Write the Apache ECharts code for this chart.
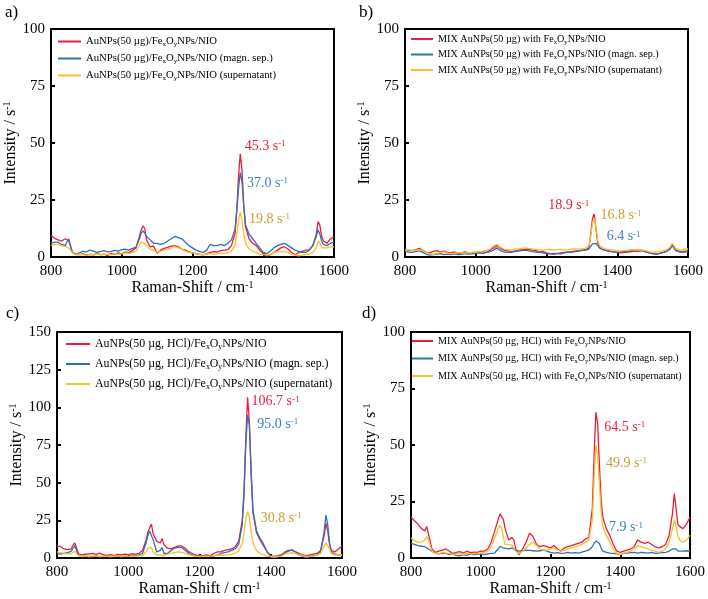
<!DOCTYPE html>
<html><head><meta charset="utf-8">
<script src="https://cdn.jsdelivr.net/npm/echarts@6/dist/echarts.min.js"></script>
<style>html,body{margin:0;padding:0;background:#fff}#c{width:708px;height:599px}</style>
</head><body><div id="c"></div>
<script>
// Raman shift positions (cm^-1)
const X = [800,810,820,830,840,845,850,860,870,880,
890,900,910,920,930,940,950,960,970,980,
990,1000,1010,1020,1030,1040,1050,1055,1060,1065,
1070,1080,1090,1095,1100,1110,1120,1130,1140,1150,
1160,1170,1180,1190,1200,1210,1220,1230,1240,1250,
1260,1270,1280,1290,1300,1310,1320,1325,1330,1335,
1340,1345,1350,1360,1370,1380,1390,1400,1410,1420,
1430,1440,1450,1460,1470,1480,1490,1500,1510,1520,
1530,1540,1550,1555,1560,1565,1570,1580,1590,1600];

// Panel a
const A_red = [9.6,8.2,7.5,7.0,8.0,8.6,7.2,2.3,1.2,1.0,
1.4,0.8,1.2,0.9,1.5,1.0,1.3,0.7,1.6,1.1,
1.8,1.4,2.2,1.9,2.8,4.0,9.0,12.0,13.6,12.5,
7.5,4.5,4.8,5.2,1.6,3.0,3.8,4.2,4.8,5.0,
4.4,3.5,3.0,2.2,1.8,1.5,1.2,0.9,1.4,2.0,
2.4,2.2,2.8,3.0,3.2,5.0,10.0,20.0,35.0,45.3,
38.0,22.0,13.0,8.0,6.0,5.0,3.0,1.5,0.5,1.0,
2.0,3.0,4.0,4.5,3.5,2.0,1.0,2.0,2.5,3.0,
3.0,5.0,10.0,15.5,14.0,9.0,7.0,6.0,8.0,9.0];
const A_blue = [6.0,6.5,6.5,5.5,5.0,6.5,8.0,2.0,1.0,1.8,
2.5,2.2,3.0,2.6,2.0,2.4,2.8,2.2,2.5,2.9,
2.6,3.2,3.5,3.0,3.8,4.2,8.0,10.5,11.5,10.5,
9.0,7.5,6.0,6.2,6.0,5.5,6.0,7.0,8.0,9.0,
8.5,8.0,6.5,5.0,4.0,3.0,2.5,2.0,3.0,5.5,
5.0,5.0,5.5,5.0,6.0,7.5,12.0,20.0,30.0,37.0,
33.0,22.0,14.0,10.0,8.0,6.0,4.0,2.0,1.5,2.5,
4.0,5.0,5.5,6.0,5.0,4.0,3.0,2.5,2.0,2.0,
3.0,5.0,9.0,12.0,10.0,7.0,5.5,5.0,6.0,6.5];
const A_yellow = [5.0,5.5,5.5,5.0,4.5,4.2,4.0,2.0,1.0,1.2,
1.0,0.8,1.2,1.0,1.4,0.9,1.1,1.3,1.0,1.4,
1.2,1.5,1.8,1.6,2.0,2.5,5.0,6.5,7.0,6.0,
5.0,3.5,3.0,3.2,2.0,2.5,3.0,3.5,4.0,4.5,
4.0,3.5,2.5,2.0,1.8,1.5,1.2,1.0,1.3,1.5,
1.2,1.4,1.6,1.5,1.8,2.5,5.0,10.0,16.0,19.8,
16.0,10.0,6.0,3.5,2.5,2.0,1.2,1.0,0.8,1.0,
2.0,2.3,2.5,2.4,2.0,1.2,0.8,0.5,0.8,1.0,
1.2,2.0,4.0,7.0,6.0,4.0,3.5,4.0,4.5,4.5];

// Panel b
const B_red = [3.5,3.0,2.8,3.2,3.8,4.2,3.0,2.0,1.8,2.5,
2.8,2.2,2.6,2.0,1.8,2.2,1.5,1.9,2.3,1.7,
2.0,1.8,2.2,2.4,2.0,3.0,4.0,4.8,5.0,4.5,
3.8,3.0,2.8,2.5,2.2,2.6,3.0,3.2,3.5,3.4,
3.0,2.8,2.2,2.5,1.8,1.5,1.2,1.6,1.4,1.8,
2.0,2.4,2.6,2.8,3.0,3.2,4.0,10.0,17.0,18.9,
12.0,6.0,4.0,3.2,2.8,2.5,2.2,2.0,1.8,2.0,
2.2,2.4,2.6,2.5,2.8,2.4,2.0,1.5,1.2,1.6,
2.0,2.5,3.5,5.5,4.5,3.0,2.4,2.2,2.6,2.5];
const B_blue = [2.5,2.2,2.0,2.4,2.8,2.5,2.0,1.2,0.8,1.0,
1.2,1.5,1.0,1.3,1.1,1.4,1.0,1.2,1.5,1.3,
1.4,1.6,1.8,1.5,2.0,2.4,3.0,3.8,4.0,3.5,
2.8,2.2,2.0,2.2,2.0,2.4,2.6,2.8,3.0,2.7,
2.4,2.2,2.0,1.8,1.5,1.4,1.6,1.5,1.8,2.0,
2.2,2.0,2.4,2.6,2.8,3.0,3.5,4.8,5.8,6.4,
6.0,5.0,4.0,3.2,2.8,2.5,2.2,2.0,2.4,2.6,
2.5,2.8,3.0,3.2,2.8,2.2,1.8,1.5,1.4,1.6,
2.0,2.6,3.8,5.0,4.0,2.8,2.2,2.0,2.2,2.4];
const B_yellow = [3.0,3.2,2.8,3.0,3.2,3.5,3.0,2.2,1.5,1.2,
1.5,2.0,2.2,1.8,1.5,1.6,1.8,2.0,1.7,1.9,
2.0,2.2,2.4,2.6,3.0,3.5,4.8,5.5,5.5,5.0,
4.2,3.5,3.2,3.0,3.0,3.4,3.6,3.8,4.0,3.8,
3.5,3.3,3.2,3.0,3.2,3.4,3.0,3.2,3.3,3.0,
3.2,3.4,3.5,3.6,3.6,3.8,5.0,9.0,15.0,16.8,
13.0,7.0,5.0,4.0,3.5,3.2,3.0,2.8,2.6,2.8,
3.0,3.2,3.0,3.2,3.0,2.8,2.4,2.0,2.2,2.5,
2.8,3.2,4.5,6.0,5.0,3.8,3.2,3.0,3.4,3.5];

// Panel c
const C_red = [8.0,7.5,6.0,5.5,6.0,8.5,10.0,3.0,2.0,2.5,
2.8,3.0,2.4,3.2,2.0,1.8,2.2,1.6,2.4,2.0,
2.5,2.2,2.8,2.6,3.0,5.0,12.0,17.0,20.0,22.5,
16.0,11.0,10.0,13.0,9.0,6.5,6.0,7.0,8.0,8.0,
6.5,4.0,3.0,2.0,1.8,1.5,2.0,1.6,3.0,4.0,
4.0,5.0,5.5,6.0,7.5,11.0,25.0,45.0,80.0,106.7,
90.0,55.0,30.0,17.0,12.0,8.0,4.0,1.5,1.0,1.5,
2.0,4.0,5.0,5.0,4.0,3.0,2.0,1.5,2.0,2.5,
3.0,5.0,15.0,23.0,18.0,9.0,5.0,4.0,6.0,8.0];
const C_blue = [3.0,2.5,3.0,3.5,4.5,6.5,8.0,2.0,1.0,1.2,
1.0,0.8,1.2,1.0,0.9,1.1,1.0,0.8,1.2,1.0,
1.1,1.0,1.4,1.6,2.0,3.0,10.0,15.0,18.0,19.0,
12.0,4.0,5.0,7.0,3.0,3.0,5.0,6.5,7.0,7.0,
5.0,3.0,2.0,1.5,1.2,1.0,1.2,1.0,1.4,2.0,
3.0,3.5,4.0,5.0,6.0,9.0,22.0,42.0,75.0,95.0,
88.0,58.0,32.0,18.0,13.0,9.0,4.0,1.0,0.5,1.0,
2.0,3.5,4.5,5.5,4.0,2.0,1.0,0.5,1.0,1.5,
2.0,4.0,18.0,28.5,22.0,10.0,4.0,2.5,2.0,2.0];
const C_yellow = [4.0,3.5,3.0,2.8,3.0,4.0,4.5,1.5,1.0,1.2,
1.0,1.4,1.2,1.0,1.3,1.1,1.0,1.2,1.4,1.0,
1.2,1.3,1.0,1.2,1.4,1.5,4.0,6.5,7.5,7.0,
4.0,2.0,2.0,2.5,1.5,2.5,3.0,3.5,4.0,3.8,
3.0,2.0,1.5,1.2,1.0,1.2,1.0,1.4,1.5,1.8,
2.0,1.8,2.2,2.5,3.0,5.0,10.0,17.0,26.0,30.8,
27.0,17.0,10.0,5.0,3.0,2.0,1.2,1.0,0.8,1.0,
1.2,2.5,3.0,3.5,3.0,2.0,1.5,1.0,1.2,1.5,
2.0,3.0,8.0,10.0,9.0,6.0,3.0,2.0,2.0,2.0];

// Panel d
const D_red = [18.0,16.5,15.0,13.0,12.0,14.0,14.0,4.0,2.5,3.0,
3.5,4.0,3.0,2.0,2.5,2.8,2.2,3.0,2.4,2.6,
2.5,3.0,3.0,4.0,7.0,12.0,17.0,19.5,20.0,17.0,
13.0,8.0,9.0,8.0,4.0,1.5,4.0,7.0,11.0,9.5,
6.0,5.0,5.5,5.0,4.5,5.5,4.0,3.0,4.5,5.0,
5.5,6.0,6.5,7.0,8.5,9.0,22.0,45.0,64.5,60.0,
42.0,26.0,18.0,13.0,10.0,6.0,3.0,2.5,3.0,3.5,
4.0,5.0,8.0,7.0,6.5,7.0,6.0,5.0,4.5,5.0,
6.0,10.0,20.0,28.5,22.0,15.0,14.0,13.0,15.0,18.0];
const D_blue = [6.5,6.0,5.5,5.2,5.0,4.5,4.0,3.0,2.0,1.8,
2.2,2.0,1.5,1.8,1.2,1.0,1.5,1.2,1.8,1.5,
1.6,1.8,1.5,1.8,2.0,2.2,4.0,5.0,4.8,4.5,
4.5,4.0,4.5,4.0,3.5,3.0,3.2,3.5,3.4,3.2,
3.0,3.2,3.5,3.0,2.5,2.2,2.4,2.0,2.2,2.5,
2.2,2.4,2.2,2.6,3.0,3.5,5.0,6.5,7.5,7.9,
6.5,4.5,3.0,2.5,2.2,2.0,1.8,1.5,2.0,2.2,
2.4,2.5,2.2,2.5,2.4,2.2,2.5,2.0,2.2,2.4,
2.5,3.0,4.0,4.5,4.0,3.0,2.8,3.0,3.2,3.0];
const D_yellow = [9.0,7.5,7.0,7.0,8.0,9.5,8.0,3.0,2.0,1.8,
2.5,2.2,2.0,1.5,2.0,1.8,1.5,2.2,1.8,2.0,
2.0,2.2,2.5,3.0,5.0,9.0,13.0,14.5,13.0,9.0,
6.0,6.0,5.5,5.0,3.0,2.0,3.0,4.5,6.0,7.0,
5.5,4.0,3.5,3.5,4.0,4.5,3.5,3.0,3.5,4.0,
4.5,5.0,5.5,6.0,7.0,8.0,17.0,35.0,49.9,46.0,
33.0,21.0,14.0,10.0,7.0,4.0,2.0,1.5,2.0,2.5,
3.0,4.0,5.5,5.0,4.5,4.0,3.5,3.0,2.5,3.0,
4.0,7.0,13.0,17.0,14.0,10.0,8.0,7.0,8.0,10.0];

// Axis ticks
const X_TICKS = [800, 1000, 1200, 1400, 1600];
const Y_TICKS_100 = [0, 25, 50, 75, 100];
const Y_TICKS_150 = [0, 25, 50, 75, 100, 125, 150];

// Legend names
const NAMES_A = ['AuNPs(50 µg)/Fe{sub|x}O{sub|y}NPs/NIO', 'AuNPs(50 µg)/Fe{sub|x}O{sub|y}NPs/NIO (magn. sep.)', 'AuNPs(50 µg)/Fe{sub|x}O{sub|y}NPs/NIO (supernatant)'];
const NAMES_B = ['MIX AuNPs(50 µg) with Fe{sub|x}O{sub|y}NPs/NIO', 'MIX AuNPs(50 µg) with Fe{sub|x}O{sub|y}NPs/NIO (magn. sep.)', 'MIX AuNPs(50 µg) with Fe{sub|x}O{sub|y}NPs/NIO (supernatant)'];
const NAMES_C = ['AuNPs(50 µg, HCl)/Fe{sub|x}O{sub|y}NPs/NIO', 'AuNPs(50 µg, HCl)/Fe{sub|x}O{sub|y}NPs/NIO (magn. sep.)', 'AuNPs(50 µg, HCl)/Fe{sub|x}O{sub|y}NPs/NIO (supernatant)'];
const NAMES_D = ['MIX AuNPs(50 µg, HCl) with Fe{sub|x}O{sub|y}NPs/NIO', 'MIX AuNPs(50 µg, HCl) with Fe{sub|x}O{sub|y}NPs/NIO (magn. sep.)', 'MIX AuNPs(50 µg, HCl) with Fe{sub|x}O{sub|y}NPs/NIO (supernatant)'];

// Peak annotation texts
const PEAKS_A = ['45.3', '37.0', '19.8'];
const PEAKS_B = ['18.9', '6.4', '16.8'];
const PEAKS_C = ['106.7', '95.0', '30.8'];
const PEAKS_D = ['64.5', '7.9', '49.9'];

const FONT = '"Liberation Serif","Times New Roman",serif';
const COLORS = ['#ee1c3c', '#2f72b8', '#f7c12a'];
const LABEL_COLORS = ['#e8203c', '#3a7fc0', '#c9a030'];

const panels = [
  {grid:{left:51, top:29, width:283, height:228}, ymax:100, ticks:Y_TICKS_100, data:[A_red,A_blue,A_yellow], names:NAMES_A, peaks:PEAKS_A,
   ann:[[1348,48.7],[1354,32.5],[1360,16.7]], legend:{left:58, top:36, gap:5, size:10.7, w:23}, yGap:31, letter:['a)',5,4]},
  {grid:{left:405, top:29, width:283, height:228}, ymax:100, ticks:Y_TICKS_100, data:[B_red,B_blue,B_yellow], names:NAMES_B, peaks:PEAKS_B,
   ann:[[1321,22.5,'left'],[1370,8.9],[1353,18.1]], legend:{left:411, top:34, gap:4, size:10.2, w:22}, yGap:31, letter:['b)',359,4]},
  {grid:{left:57, top:332, width:285, height:226}, ymax:150, ticks:Y_TICKS_150, data:[C_red,C_blue,C_yellow], names:NAMES_C, peaks:PEAKS_C,
   ann:[[1346,103.7],[1362,88.9],[1372,26.3]], legend:{left:66, top:338, gap:7, size:11.9, w:24}, yGap:32, letter:['c)',6,305]},
  {grid:{left:411, top:332, width:281, height:226}, ymax:100, ticks:Y_TICKS_100, data:[D_red,D_blue,D_yellow], names:NAMES_D, peaks:PEAKS_D,
   ann:[[1354,57.8],[1368,13.4],[1359,41.9]], legend:{left:412, top:336, gap:6, size:10.1, w:21}, yGap:32, letter:['d)',362,305]}
];

const option = {
  animation:false,
  backgroundColor:'#fff',
  textStyle:{fontFamily:FONT},
  grid:[], xAxis:[], yAxis:[], series:[], legend:[], graphic:[]
};

const supRich = {sup:{fontSize:10, fontFamily:FONT, color:'#000', verticalAlign:'top', padding:[0,0,6,0]}};

panels.forEach((p, k) => {
  option.grid.push(Object.assign({show:true, borderColor:'#000', borderWidth:2, backgroundColor:'transparent'}, p.grid));
  option.xAxis.push({
    type:'value', gridIndex:k, min:X_TICKS[0], max:X_TICKS[X_TICKS.length-1], interval:X_TICKS[1]-X_TICKS[0],
    axisLine:{show:true, lineStyle:{color:'#000', width:2}},
    axisTick:{show:true, inside:true, length:4, lineStyle:{color:'#000', width:2}},
    axisLabel:{color:'#000', fontSize:15, fontFamily:FONT, margin:7, formatter:v => String(v)},
    splitLine:{show:false},
    name:'Raman-Shift / cm{sup|-1}', nameLocation:'middle', nameGap:23,
    nameTextStyle:{color:'#000', fontSize:16, fontFamily:FONT, rich:supRich}
  });
  option.yAxis.push({
    type:'value', gridIndex:k, min:0, max:p.ymax, interval:p.ticks[1]-p.ticks[0],
    axisLine:{show:true, lineStyle:{color:'#000', width:2}},
    axisTick:{show:true, inside:true, length:4, lineStyle:{color:'#000', width:2}},
    axisLabel:{color:'#000', fontSize:15, fontFamily:FONT, margin:6, formatter:v => String(v)},
    splitLine:{show:false},
    name:'Intensity / s{sup|-1}', nameLocation:'middle', nameGap:p.yGap, nameRotate:90,
    nameTextStyle:{color:'#000', fontSize:16, fontFamily:FONT, rich:supRich}
  });
  p.data.forEach((arr, j) => {
    const a = p.ann[j];
    option.series.push({
      type:'line', name:p.names[j], xAxisIndex:k, yAxisIndex:k, symbol:'none', z: 2 + j,
      lineStyle:{color:COLORS[j], width:1.3}, itemStyle:{color:COLORS[j]},
      data:X.map((x, i) => [x, arr[i]]),
      markPoint:{symbol:'circle', symbolSize:0, silent:true, animation:false,
        data:[{coord:[a[0], a[1]], label:{show:true, position:a[2]||'right', distance:0,
          formatter:p.peaks[j] + ' s{sup|-1}', color:LABEL_COLORS[j], fontSize:14, fontFamily:FONT,
          rich:{sup:{fontSize:9, color:LABEL_COLORS[j], fontFamily:FONT, verticalAlign:'top', padding:[0,0,5,0]}}}}]}
    });
  });
  option.legend.push({
    show:true, orient:'vertical', left:p.legend.left, top:p.legend.top, data:p.names,
    itemWidth:p.legend.w, itemHeight:2, itemGap:p.legend.gap, padding:0,
    icon:'rect', selectedMode:false,
    textStyle:{color:'#000', fontSize:p.legend.size, fontFamily:FONT,
      rich:{sub:{fontSize:p.legend.size*0.65, fontFamily:FONT, color:'#000', verticalAlign:'bottom', padding:[6,0,0,0]}}}
  });
  option.graphic.push({type:'text', left:p.letter[1], top:p.letter[2],
    style:{text:p.letter[0], font:'17px ' + FONT, fill:'#000'}});
});

const chart = echarts.init(document.getElementById('c'), null, {renderer:'canvas'});
chart.setOption(option);
</script></body></html>
